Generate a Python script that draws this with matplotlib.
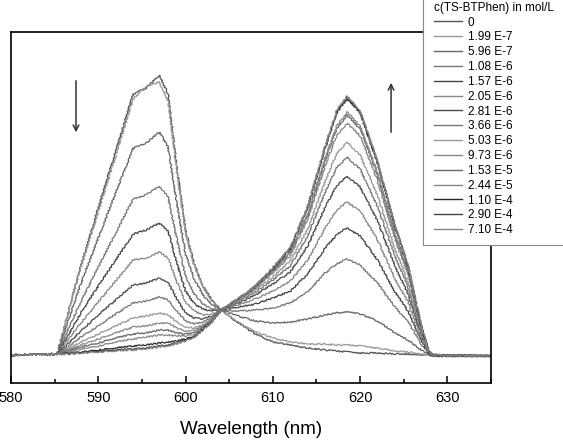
import matplotlib

matplotlib.use("Agg")
import matplotlib.pyplot as plt
from matplotlib.patches import Rectangle
from matplotlib.ticker import MultipleLocator

plt.rcParams["font.family"] = ["Liberation Sans", "DejaVu Sans"]

# wavelength grid (nm) the spectra were read at
wavelength = [580, 585.3, 586.5, 588, 590, 592, 594, 595.5, 597, 598, 599, 600,
              601, 602, 603, 604.1, 606, 608, 610, 612, 614, 616, 617.3, 618.5,
              620, 622, 624, 625.5, 627, 627.8, 628.3, 635]

# emission intensity (a.u.), one list per ligand concentration
c_0 = [1, 2, 42, 90, 148, 205, 262, 268, 281, 262, 190, 125, 92, 70, 56, 46,
       33, 22, 14, 11, 8, 6, 5, 4, 3, 3, 2, 2, 1, 1, 0, 0]
c_199e7 = [1, 2, 41, 88, 144, 200, 257, 270, 274, 255, 185, 122, 90, 69, 55, 46,
           34, 24, 18, 14, 12, 12, 11, 11, 10, 8, 5, 4, 2, 1, 0, 0]
c_596e7 = [1, 2, 34, 72, 118, 163, 208, 213, 224, 209, 153, 102, 77, 61, 51, 46,
           40, 35, 33, 34, 37, 41, 43, 44, 42, 35, 23, 16, 6, 2, 0, 0]
c_108e6 = [1, 2, 26, 54, 89, 123, 157, 161, 170, 159, 117, 80, 62, 52, 47, 46,
           45, 46, 48, 53, 64, 83, 92, 97, 91, 73, 49, 34, 12, 3, 0, 0]
c_157e6 = [1, 2, 20, 43, 70, 96, 122, 126, 133, 125, 93, 65, 52, 47, 45, 46,
           49, 52, 58, 65, 82, 108, 121, 128, 120, 96, 64, 45, 15, 3, 0, 0]
c_205e6 = [1, 2, 16, 33, 54, 75, 96, 98, 104, 98, 74, 54, 45, 41, 42, 46,
           51, 57, 65, 75, 96, 128, 146, 154, 145, 116, 77, 54, 18, 4, 1, 0]
c_281e6 = [1, 2, 12, 25, 41, 56, 71, 73, 78, 74, 57, 43, 38, 37, 40, 46,
           53, 61, 72, 84, 110, 149, 170, 180, 169, 135, 90, 62, 21, 4, 1, 0]
c_366e6 = [1, 2, 9, 19, 30, 42, 53, 55, 59, 56, 45, 35, 32, 34, 38, 46,
           54, 64, 76, 90, 120, 164, 188, 199, 187, 149, 100, 69, 23, 5, 1, 0]
c_503e6 = [1, 2, 7, 14, 22, 30, 38, 40, 43, 41, 34, 29, 28, 31, 37, 46,
           55, 66, 79, 95, 127, 175, 202, 214, 201, 160, 107, 74, 25, 5, 1, 0]
c_973e6 = [1, 2, 6, 11, 17, 23, 29, 30, 33, 33, 28, 25, 26, 30, 36, 46,
           56, 68, 83, 100, 137, 190, 220, 233, 220, 175, 117, 81, 27, 5, 1, 0]
c_153e5 = [1, 2, 5, 9, 13, 18, 22, 23, 26, 26, 23, 22, 24, 29, 35, 46,
           56, 68, 85, 103, 141, 196, 227, 241, 227, 181, 121, 84, 28, 6, 1, 0]
c_244e5 = [1, 2, 4, 7, 10, 14, 17, 19, 21, 21, 20, 20, 22, 28, 35, 46,
           56, 69, 85, 104, 142, 198, 230, 244, 230, 183, 122, 84, 28, 6, 1, 0]
c_110e4 = [1, 2, 3, 4, 6, 8, 10, 11, 13, 14, 15, 17, 20, 27, 34, 46,
           57, 70, 87, 107, 149, 208, 243, 257, 243, 193, 129, 89, 30, 6, 1, 0]
c_290e4 = [1, 2, 2, 3, 5, 6, 7, 8, 10, 11, 13, 16, 19, 26, 34, 46,
           57, 70, 88, 108, 149, 209, 244, 259, 244, 194, 130, 90, 30, 6, 1, 0]
c_710e4 = [1, 2, 2, 3, 4, 5, 6, 7, 9, 10, 12, 15, 19, 26, 34, 46,
           57, 70, 88, 108, 150, 210, 245, 260, 245, 195, 130, 90, 30, 6, 1, 0]

spectra = [c_0, c_199e7, c_596e7, c_108e6, c_157e6, c_205e6, c_281e6, c_366e6,
           c_503e6, c_973e6, c_153e5, c_244e5, c_110e4, c_290e4, c_710e4]
labels = ["0", "1.99 E-7", "5.96 E-7", "1.08 E-6", "1.57 E-6", "2.05 E-6",
          "2.81 E-6", "3.66 E-6", "5.03 E-6", "9.73 E-6", "1.53 E-5",
          "2.44 E-5", "1.10 E-4", "2.90 E-4", "7.10 E-4"]
colors = ["#555555", "#999999", "#666666", "#777777", "#444444", "#888888",
          "#4a4a4a", "#777777", "#999999", "#888888", "#666666", "#888888",
          "#2a2a2a", "#444444", "#888888"]

fig = plt.figure(figsize=(5.63, 4.45), dpi=100)
ax = fig.add_axes([0.0195, 0.1393, 0.8526, 0.7887])

for y, lab, col in zip(spectra, labels, colors):
    line, = ax.plot(wavelength, y, color=col, lw=0.9, label=lab)
    line.set_sketch_params(scale=0.7, length=2.5, randomness=3)

ax.set_xlim(580, 635)
ax.set_ylim(-27, 324)
ax.xaxis.set_major_locator(MultipleLocator(10))
ax.xaxis.set_minor_locator(MultipleLocator(5))
ax.tick_params(axis="x", which="major", direction="in", length=5, width=1.1,
               labelsize=10.5, pad=6, top=False)
ax.tick_params(axis="x", which="minor", direction="in", length=3, width=1.1,
               top=False)
ax.set_yticks([])
for s in ax.spines.values():
    s.set_linewidth(1.2)
ax.set_xlabel("Wavelength (nm)", fontsize=13.5, labelpad=11)

# trend arrows
ax.annotate("", xy=(587.45, 221), xytext=(587.45, 278),
            arrowprops=dict(arrowstyle="->", color="#333333", lw=1.1))
ax.annotate("", xy=(623.55, 276), xytext=(623.55, 221),
            arrowprops=dict(arrowstyle="->", color="#333333", lw=1.1))

# legend box runs off the top/right edge of the figure
fig.patches.append(Rectangle((423 / 563, 1 - 245 / 445), 0.4, 0.6,
                             transform=fig.transFigure, facecolor="white",
                             edgecolor="#888888", lw=0.8, zorder=3))
leg = fig.legend(loc="upper left", bbox_to_anchor=(428 / 563, 1.0095),
                 title="c(TS-BTPhen) in mol/L", title_fontsize=8.5, fontsize=8.5,
                 frameon=False, handlelength=2.4, handletextpad=0.45,
                 labelspacing=0.24, alignment="left", borderpad=0.0)
leg.set_zorder(4)
for h in leg.get_lines():
    h.set_sketch_params(None)
    h.set_linewidth(1.0)

fig.savefig("out.png", dpi=100)
